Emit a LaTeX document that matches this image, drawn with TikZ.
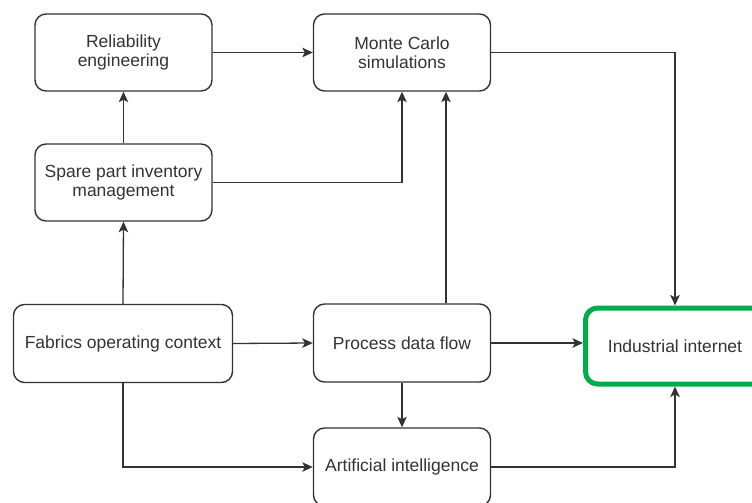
\documentclass[tikz,border=0pt]{standalone}
\usepackage{fontspec}
\setmainfont{Liberation Sans}
\usetikzlibrary{arrows.meta}
\definecolor{ink}{RGB}{51,51,51}
\definecolor{okgreen}{RGB}{0,172,78}
\begin{document}
\begin{tikzpicture}[x=1pt,y=-1pt,
  box/.style={draw=ink, line width=1.4pt, rounded corners=11pt, fill=white,
    minimum width=177pt, minimum height=77pt, align=center, text=ink,
    inner sep=0pt, font=\fontsize{17.5}{18.5}\selectfont},
  conn/.style={draw=ink, line width=1.3pt},
  arr/.style={conn, -{Stealth[length=10.5pt,width=9.5pt,inset=2.5pt]}}]
\useasboundingbox (0,0) rectangle (752,503);

% boxes
\node[box] (rel)   at (123.5,52.5) {Reliability\\engineering};
\node[box] (mc)    at (402,52.5)   {Monte Carlo\\simulations};
\node[box] (spare) at (123.5,182.5) {Spare part inventory\\management};
\node[box, minimum width=219pt, minimum height=78pt] (fab) at (123,343.5) {Fabrics operating context};
\node[box, minimum height=78pt] (proc) at (402,343) {Process data flow};
\node[box, minimum height=78pt] (ai)   at (402,467) {Artificial intelligence};
\node[box, draw=okgreen, line width=5pt, minimum width=179pt, minimum height=76pt,
      rounded corners=12pt] (ind) at (675,346) {Industrial internet};

% connectors
\draw[arr] (spare.north) -- (rel.south);
\draw[arr] (rel.east) -- (mc.west);
\draw[arr] (spare.east) -| (mc.south);
\draw[arr] ([xshift=44pt]proc.north) -- ([xshift=44pt]mc.south);
\draw[arr] (mc.east) -| (ind.north);
\draw[arr] (fab.north) -- (spare.south);
\draw[arr] (fab.east) -- (proc.west);
\draw[arr] (proc.east) -- (proc.east -| ind.west);
\draw[arr] (proc.south) -- (ai.north);
\draw[arr] (fab.south) |- (ai.west);
\draw[arr] (ai.east) -| (ind.south);
\end{tikzpicture}
\end{document}
